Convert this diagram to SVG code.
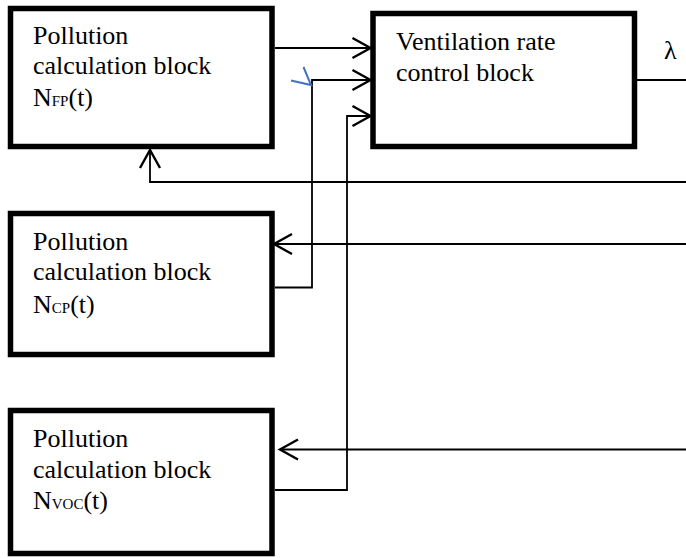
<svg xmlns="http://www.w3.org/2000/svg" width="686" height="558" viewBox="0 0 686 558">
<style>
.box{fill:#fff;stroke:#000;stroke-width:5.5}
.t{font-family:"Liberation Serif","Times New Roman",serif;font-size:26px;fill:#000}
.sub{font-size:15px}
.c{fill:none;stroke:#000;stroke-width:1.8}
</style>
<defs>
<marker id="ah" markerUnits="userSpaceOnUse" markerWidth="24" markerHeight="24" viewBox="-20 -12 24 24" refX="0" refY="0" orient="auto" overflow="visible">
<path d="M-18,-10 L0,0 L-18,10" fill="none" stroke="#000" stroke-width="2.4"/>
</marker>
</defs>
<g id="node-fp">
<rect class="box" x="10.5" y="8.5" width="261.5" height="138"/>
<text class="t" x="33" y="44">Pollution</text>
<text class="t" x="33" y="74">calculation block</text>
<text class="t" x="33" y="106">N<tspan class="sub">FP</tspan>(t)</text>
</g>
<g id="node-vent">
<rect class="box" x="373" y="13.5" width="261.5" height="133"/>
<text class="t" x="396" y="50">Ventilation rate</text>
<text class="t" x="396" y="80.5">control block</text>
</g>
<g id="node-cp">
<rect class="box" x="10.5" y="213.5" width="261.5" height="141"/>
<text class="t" x="33" y="250">Pollution</text>
<text class="t" x="33" y="280">calculation block</text>
<text class="t" x="33" y="312.5">N<tspan class="sub">CP</tspan>(t)</text>
</g>
<g id="node-voc">
<rect class="box" x="10.5" y="410.5" width="261.5" height="143"/>
<text class="t" x="33" y="446.5">Pollution</text>
<text class="t" x="33" y="477.5">calculation block</text>
<text class="t" x="33" y="508.5">N<tspan class="sub">VOC</tspan>(t)</text>
</g>
<g id="connectors">
<path class="c" d="M275,48 H370.5" marker-end="url(#ah)"/>
<path class="c" d="M275,287.5 H312 V80 H370.5" marker-end="url(#ah)"/>
<path class="c" d="M275,490 H347 V116 H370.5" marker-end="url(#ah)"/>
<path class="c" d="M637,80 H686"/>
<path class="c" d="M686,182 H150 V150" marker-end="url(#ah)"/>
<path class="c" d="M686,244 H274" marker-end="url(#ah)"/>
<path class="c" d="M686,449.5 H280" marker-end="url(#ah)"/>
<path d="M291,80.5 L311,85 L303.5,67" fill="none" stroke="#4472c4" stroke-width="2"/>
<text class="t" x="664" y="59">λ</text>
</g>
</svg>
